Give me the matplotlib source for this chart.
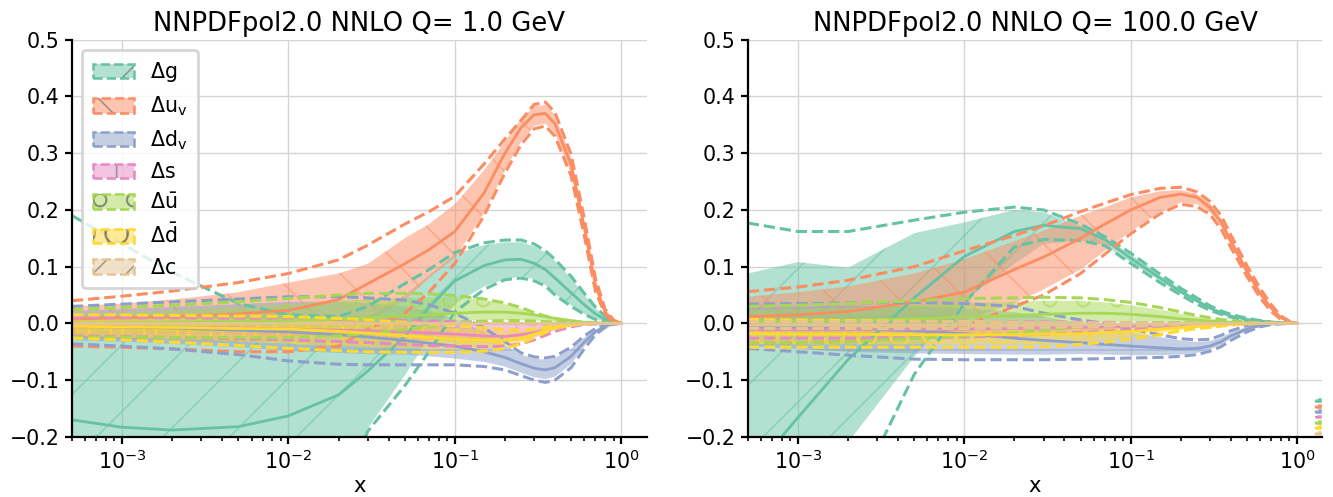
import matplotlib
matplotlib.use("Agg")
import matplotlib.pyplot as plt
from matplotlib.patches import Patch

plt.rcParams['mathtext.default'] = 'regular'
plt.rcParams['hatch.linewidth'] = 0.6

x = [5e-4, 1e-3, 2e-3, 5e-3, 0.01, 0.02, 0.03, 0.05, 0.07, 0.1, 0.15, 0.2, 0.25, 0.3, 0.35, 0.4, 0.5, 0.6, 0.7, 0.8, 0.9, 1.0]

labels = [r'$\Delta g$', r'$\Delta u_v$', r'$\Delta d_v$', r'$\Delta s$', r'$\Delta \bar{u}$', r'$\Delta \bar{d}$', r'$\Delta c$']
colors = ['#66c2a5', '#fc8d62', '#8da0cb', '#e78ac3', '#a6d854', '#ffd92f', '#e5c494']
hatches = ['/', '\\', '-', '+', 'o', 'O', '//']
titles = ['NNPDFpol2.0 NNLO Q= 1.0 GeV', 'NNPDFpol2.0 NNLO Q= 100.0 GeV']

# ---- Q = 1 GeV ----
g1_mid = [-0.170, -0.183, -0.188, -0.182, -0.163, -0.126, -0.084, -0.023, 0.028, 0.075, 0.102, 0.112, 0.113, 0.106, 0.095, 0.080, 0.054, 0.033, 0.017, 0.007, 0.002, 0.0]
g1_lo = [-0.45, -0.46, -0.46, -0.43, -0.39, -0.30, -0.185, -0.092, -0.025, 0.035, 0.065, 0.078, 0.083, 0.078, 0.068, 0.052, 0.032, 0.017, 0.008, 0.003, 0.001, 0.0]
g1_hi = [-0.02, -0.025, -0.03, -0.03, -0.03, -0.02, 0.01, 0.05, 0.085, 0.122, 0.138, 0.143, 0.143, 0.136, 0.125, 0.11, 0.08, 0.05, 0.027, 0.012, 0.004, 0.0]
g1_dlo = [-0.55, -0.55, -0.55, -0.5, -0.45, -0.32, -0.19, -0.11, -0.05, 0.02, 0.06, 0.077, 0.08, 0.075, 0.066, 0.05, 0.03, 0.016, 0.007, 0.003, 0.001, 0.0]
g1_dhi = [0.19, 0.14, 0.09, 0.035, 0.015, 0.012, 0.03, 0.07, 0.095, 0.125, 0.142, 0.147, 0.147, 0.14, 0.128, 0.113, 0.083, 0.053, 0.029, 0.013, 0.004, 0.0]

u1_mid = [0.008, 0.010, 0.012, 0.017, 0.023, 0.042, 0.070, 0.105, 0.130, 0.162, 0.230, 0.300, 0.345, 0.368, 0.370, 0.352, 0.280, 0.170, 0.068, 0.020, 0.004, 0.0]
u1_lo = [-0.025, -0.028, -0.03, -0.032, -0.03, -0.015, 0.005, 0.04, 0.08, 0.115, 0.195, 0.27, 0.32, 0.348, 0.352, 0.335, 0.265, 0.16, 0.06, 0.018, 0.003, 0.0]
u1_hi = [0.030, 0.035, 0.042, 0.055, 0.072, 0.088, 0.105, 0.15, 0.175, 0.21, 0.27, 0.32, 0.36, 0.383, 0.385, 0.368, 0.293, 0.18, 0.075, 0.023, 0.005, 0.0]
u1_dlo = [-0.04, -0.042, -0.045, -0.05, -0.05, -0.04, -0.01, 0.018, 0.055, 0.106, 0.19, 0.265, 0.315, 0.343, 0.348, 0.33, 0.26, 0.155, 0.057, 0.016, 0.003, 0.0]
u1_dhi = [0.040, 0.048, 0.057, 0.072, 0.088, 0.112, 0.138, 0.175, 0.197, 0.224, 0.281, 0.325, 0.358, 0.386, 0.39, 0.372, 0.298, 0.185, 0.08, 0.025, 0.006, 0.0]

d1_mid = [-0.005, -0.006, -0.008, -0.012, -0.015, -0.020, -0.024, -0.030, -0.035, -0.040, -0.050, -0.060, -0.071, -0.079, -0.082, -0.078, -0.058, -0.033, -0.015, -0.005, -0.001, 0.0]
d1_lo = [-0.030, -0.032, -0.036, -0.042, -0.048, -0.052, -0.054, -0.055, -0.058, -0.062, -0.068, -0.076, -0.087, -0.095, -0.098, -0.094, -0.072, -0.040, -0.018, -0.006, -0.001, 0.0]
d1_hi = [0.022, 0.025, 0.029, 0.034, 0.038, 0.038, 0.036, 0.030, 0.022, 0.008, -0.015, -0.038, -0.055, -0.062, -0.064, -0.061, -0.045, -0.025, -0.011, -0.004, -0.001, 0.0]
d1_dlo = [-0.036, -0.040, -0.045, -0.055, -0.066, -0.072, -0.073, -0.073, -0.073, -0.073, -0.076, -0.082, -0.092, -0.100, -0.104, -0.100, -0.078, -0.045, -0.020, -0.007, -0.0015, 0.0]
d1_dhi = [0.030, 0.034, 0.038, 0.043, 0.047, 0.047, 0.045, 0.041, 0.033, 0.018, -0.008, -0.032, -0.052, -0.059, -0.061, -0.058, -0.042, -0.022, -0.009, -0.003, -0.0005, 0.0]

s1_mid = [-0.006, -0.006, -0.007, -0.008, -0.010, -0.012, -0.013, -0.015, -0.017, -0.019, -0.022, -0.023, -0.020, -0.016, -0.011, -0.007, -0.003, -0.001, 0.0, 0.0, 0.0, 0.0]
s1_lo = [-0.016, -0.017, -0.018, -0.020, -0.022, -0.024, -0.025, -0.027, -0.029, -0.031, -0.033, -0.033, -0.030, -0.025, -0.018, -0.012, -0.005, -0.002, -0.001, 0.0, 0.0, 0.0]
s1_hi = [0.004, 0.004, 0.003, 0.003, 0.002, 0.001, 0.0, 0.0, 0.0, 0.0, 0.0, -0.001, -0.002, -0.003, -0.002, -0.001, -0.001, 0.0, 0.0, 0.0, 0.0, 0.0]
s1_dlo = [-0.022, -0.023, -0.025, -0.027, -0.029, -0.032, -0.034, -0.037, -0.039, -0.040, -0.041, -0.040, -0.036, -0.029, -0.021, -0.014, -0.006, -0.002, -0.001, 0.0, 0.0, 0.0]
s1_dhi = [0.010, 0.010, 0.010, 0.009, 0.008, 0.007, 0.006, 0.005, 0.004, 0.003, 0.002, 0.001, 0.0, -0.001, -0.001, -0.001, 0.0, 0.0, 0.0, 0.0, 0.0, 0.0]

ub1_mid = [0.000, 0.001, 0.002, 0.004, 0.005, 0.008, 0.010, 0.013, 0.015, 0.018, 0.020, 0.020, 0.018, 0.015, 0.012, 0.009, 0.005, 0.002, 0.001, 0.0, 0.0, 0.0]
ub1_lo = [-0.015, -0.015, -0.015, -0.015, -0.015, -0.012, -0.009, -0.004, 0.0, 0.004, 0.006, 0.006, 0.006, 0.005, 0.004, 0.003, 0.001, 0.0, 0.0, 0.0, 0.0, 0.0]
ub1_hi = [0.016, 0.019, 0.023, 0.029, 0.034, 0.040, 0.043, 0.045, 0.046, 0.046, 0.041, 0.034, 0.026, 0.018, 0.012, 0.007, 0.003, 0.001, 0.0, 0.0, 0.0, 0.0]
ub1_dlo = [-0.024, -0.024, -0.025, -0.025, -0.025, -0.022, -0.018, -0.011, -0.005, 0.001, 0.004, 0.005, 0.005, 0.004, 0.003, 0.002, 0.001, 0.0, 0.0, 0.0, 0.0, 0.0]
ub1_dhi = [0.024, 0.028, 0.032, 0.038, 0.044, 0.050, 0.053, 0.053, 0.052, 0.049, 0.043, 0.036, 0.028, 0.019, 0.013, 0.008, 0.004, 0.002, 0.001, 0.0, 0.0, 0.0]

db1_mid = [-0.005, -0.006, -0.007, -0.009, -0.010, -0.014, -0.017, -0.022, -0.025, -0.028, -0.030, -0.030, -0.026, -0.019, -0.012, -0.007, -0.003, -0.001, 0.0, 0.0, 0.0, 0.0]
db1_lo = [-0.022, -0.024, -0.027, -0.032, -0.036, -0.040, -0.042, -0.044, -0.045, -0.046, -0.045, -0.040, -0.033, -0.022, -0.014, -0.008, -0.003, -0.001, 0.0, 0.0, 0.0, 0.0]
db1_hi = [0.010, 0.010, 0.009, 0.008, 0.007, 0.004, 0.002, -0.002, -0.005, -0.008, -0.012, -0.015, -0.015, -0.012, -0.008, -0.005, -0.002, -0.001, 0.0, 0.0, 0.0, 0.0]
db1_dlo = [-0.026, -0.029, -0.033, -0.039, -0.044, -0.048, -0.050, -0.051, -0.051, -0.051, -0.049, -0.044, -0.036, -0.025, -0.016, -0.009, -0.003, -0.001, 0.0, 0.0, 0.0, 0.0]
db1_dhi = [0.015, 0.015, 0.014, 0.013, 0.012, 0.009, 0.006, 0.002, -0.001, -0.004, -0.008, -0.011, -0.012, -0.010, -0.007, -0.004, -0.001, 0.0, 0.0, 0.0, 0.0, 0.0]

c1_mid = [0.0, 0.0, 0.0, 0.0, 0.0, 0.0, 0.0, 0.0, 0.0, 0.0, 0.0, 0.0, 0.0, 0.0, 0.0, 0.0, 0.0, 0.0, 0.0, 0.0, 0.0, 0.0]
c1_lo = [0.0, 0.0, 0.0, 0.0, 0.0, 0.0, 0.0, 0.0, 0.0, 0.0, 0.0, 0.0, 0.0, 0.0, 0.0, 0.0, 0.0, 0.0, 0.0, 0.0, 0.0, 0.0]
c1_hi = [0.0, 0.0, 0.0, 0.0, 0.0, 0.0, 0.0, 0.0, 0.0, 0.0, 0.0, 0.0, 0.0, 0.0, 0.0, 0.0, 0.0, 0.0, 0.0, 0.0, 0.0, 0.0]
c1_dlo = [0.0, 0.0, 0.0, 0.0, 0.0, 0.0, 0.0, 0.0, 0.0, 0.0, 0.0, 0.0, 0.0, 0.0, 0.0, 0.0, 0.0, 0.0, 0.0, 0.0, 0.0, 0.0]
c1_dhi = [0.0, 0.0, 0.0, 0.0, 0.0, 0.0, 0.0, 0.0, 0.0, 0.0, 0.0, 0.0, 0.0, 0.0, 0.0, 0.0, 0.0, 0.0, 0.0, 0.0, 0.0, 0.0]

# ---- Q = 100 GeV ----
g2_mid = [-0.27, -0.166, -0.064, 0.045, 0.118, 0.162, 0.173, 0.167, 0.148, 0.115, 0.080, 0.056, 0.040, 0.027, 0.019, 0.013, 0.007, 0.004, 0.002, 0.001, 0.0003, 0.0]
g2_lo = [-0.6, -0.45, -0.21, -0.059, 0.04, 0.105, 0.14, 0.146, 0.138, 0.108, 0.075, 0.052, 0.037, 0.025, 0.017, 0.012, 0.006, 0.003, 0.0015, 0.0007, 0.0002, 0.0]
g2_hi = [0.088, 0.108, 0.098, 0.159, 0.178, 0.200, 0.196, 0.172, 0.150, 0.122, 0.085, 0.060, 0.043, 0.030, 0.021, 0.015, 0.008, 0.004, 0.002, 0.001, 0.0003, 0.0]
g2_dlo = [-0.7, -0.5, -0.33, -0.09, 0.035, 0.135, 0.148, 0.146, 0.137, 0.106, 0.072, 0.05, 0.034, 0.023, 0.016, 0.011, 0.005, 0.003, 0.0014, 0.0006, 0.0002, 0.0]
g2_dhi = [0.177, 0.162, 0.162, 0.182, 0.196, 0.205, 0.200, 0.175, 0.153, 0.124, 0.087, 0.062, 0.045, 0.031, 0.022, 0.016, 0.009, 0.005, 0.0025, 0.001, 0.0003, 0.0]

u2_mid = [0.012, 0.015, 0.021, 0.038, 0.055, 0.095, 0.117, 0.150, 0.175, 0.200, 0.222, 0.228, 0.222, 0.205, 0.178, 0.145, 0.092, 0.053, 0.027, 0.010, 0.003, 0.0]
u2_lo = [-0.02, -0.02, -0.018, -0.01, 0.005, 0.035, 0.06, 0.095, 0.128, 0.162, 0.196, 0.213, 0.21, 0.196, 0.170, 0.138, 0.086, 0.049, 0.024, 0.008, 0.002, 0.0]
u2_hi = [0.047, 0.055, 0.065, 0.088, 0.113, 0.145, 0.163, 0.19, 0.205, 0.222, 0.233, 0.235, 0.228, 0.212, 0.185, 0.152, 0.098, 0.058, 0.03, 0.012, 0.0035, 0.0]
u2_dlo = [-0.035, -0.034, -0.032, -0.025, -0.005, 0.03, 0.05, 0.088, 0.122, 0.158, 0.193, 0.21, 0.206, 0.192, 0.166, 0.134, 0.083, 0.045, 0.021, 0.007, 0.002, 0.0]
u2_dhi = [0.056, 0.064, 0.076, 0.1, 0.128, 0.155, 0.172, 0.197, 0.212, 0.227, 0.238, 0.24, 0.232, 0.215, 0.19, 0.156, 0.102, 0.062, 0.033, 0.013, 0.004, 0.0]

d2_mid = [-0.005, -0.007, -0.009, -0.013, -0.018, -0.026, -0.030, -0.034, -0.037, -0.040, -0.043, -0.045, -0.044, -0.040, -0.032, -0.022, -0.010, -0.004, -0.001, 0.0, 0.0, 0.0]
d2_lo = [-0.040, -0.045, -0.050, -0.053, -0.054, -0.055, -0.055, -0.054, -0.055, -0.056, -0.056, -0.055, -0.052, -0.046, -0.038, -0.027, -0.013, -0.005, -0.002, -0.001, 0.0, 0.0]
d2_hi = [0.028, 0.030, 0.031, 0.030, 0.027, 0.020, 0.012, 0.0, -0.005, -0.015, -0.024, -0.030, -0.033, -0.031, -0.025, -0.016, -0.006, -0.002, -0.001, 0.0, 0.0, 0.0]
d2_dlo = [-0.044, -0.050, -0.056, -0.063, -0.064, -0.064, -0.064, -0.063, -0.062, -0.061, -0.060, -0.058, -0.055, -0.049, -0.041, -0.030, -0.015, -0.006, -0.002, -0.001, 0.0, 0.0]
d2_dhi = [0.034, 0.035, 0.036, 0.037, 0.035, 0.030, 0.018, 0.006, 0.0, -0.010, -0.020, -0.027, -0.029, -0.028, -0.021, -0.013, -0.004, -0.001, 0.0, 0.0, 0.0, 0.0]

s2_mid = [-0.011, -0.011, -0.011, -0.010, -0.010, -0.009, -0.008, -0.007, -0.006, -0.005, -0.004, -0.003, -0.002, -0.0015, -0.001, -0.0007, -0.0003, 0.0, 0.0, 0.0, 0.0, 0.0]
s2_lo = [-0.021, -0.021, -0.021, -0.020, -0.019, -0.017, -0.015, -0.013, -0.011, -0.009, -0.007, -0.005, -0.004, -0.003, -0.002, -0.0013, -0.0006, 0.0, 0.0, 0.0, 0.0, 0.0]
s2_hi = [-0.001, -0.001, -0.001, -0.001, -0.001, -0.001, -0.001, -0.001, -0.001, -0.001, -0.001, -0.001, 0.0, 0.0, 0.0, 0.0, 0.0, 0.0, 0.0, 0.0, 0.0, 0.0]
s2_dlo = [-0.026, -0.026, -0.026, -0.025, -0.024, -0.021, -0.019, -0.016, -0.014, -0.011, -0.009, -0.006, -0.005, -0.004, -0.003, -0.002, -0.001, 0.0, 0.0, 0.0, 0.0, 0.0]
s2_dhi = [0.004, 0.004, 0.004, 0.004, 0.004, 0.003, 0.003, 0.002, 0.002, 0.001, 0.001, 0.001, 0.0, 0.0, 0.0, 0.0, 0.0, 0.0, 0.0, 0.0, 0.0, 0.0]

ub2_mid = [0.003, 0.004, 0.005, 0.008, 0.011, 0.014, 0.016, 0.018, 0.018, 0.016, 0.012, 0.008, 0.006, 0.004, 0.003, 0.002, 0.001, 0.0, 0.0, 0.0, 0.0, 0.0]
ub2_lo = [-0.018, -0.017, -0.016, -0.014, -0.012, -0.008, -0.004, 0.0, 0.002, 0.003, 0.003, 0.002, 0.002, 0.001, 0.001, 0.0, 0.0, 0.0, 0.0, 0.0, 0.0, 0.0]
ub2_hi = [0.024, 0.026, 0.028, 0.032, 0.036, 0.038, 0.040, 0.040, 0.037, 0.032, 0.024, 0.017, 0.012, 0.008, 0.006, 0.004, 0.002, 0.001, 0.0, 0.0, 0.0, 0.0]
ub2_dlo = [-0.035, -0.034, -0.032, -0.026, -0.022, -0.017, -0.012, -0.006, -0.002, 0.0, 0.001, 0.001, 0.001, 0.0, 0.0, 0.0, 0.0, 0.0, 0.0, 0.0, 0.0, 0.0]
ub2_dhi = [0.030, 0.032, 0.035, 0.040, 0.044, 0.045, 0.046, 0.045, 0.042, 0.037, 0.028, 0.020, 0.014, 0.010, 0.007, 0.005, 0.002, 0.001, 0.0, 0.0, 0.0, 0.0]

db2_mid = [-0.018, -0.019, -0.019, -0.020, -0.020, -0.020, -0.019, -0.018, -0.016, -0.014, -0.010, -0.007, -0.005, -0.004, -0.003, -0.002, -0.001, 0.0, 0.0, 0.0, 0.0, 0.0]
db2_lo = [-0.036, -0.037, -0.037, -0.037, -0.037, -0.037, -0.036, -0.033, -0.029, -0.024, -0.017, -0.012, -0.008, -0.006, -0.004, -0.003, -0.001, 0.0, 0.0, 0.0, 0.0, 0.0]
db2_hi = [0.0, 0.0, -0.001, -0.002, -0.003, -0.004, -0.004, -0.004, -0.004, -0.004, -0.003, -0.002, -0.002, -0.001, -0.001, -0.001, 0.0, 0.0, 0.0, 0.0, 0.0, 0.0]
db2_dlo = [-0.042, -0.042, -0.042, -0.042, -0.042, -0.042, -0.041, -0.037, -0.033, -0.028, -0.020, -0.013, -0.009, -0.007, -0.005, -0.003, -0.001, 0.0, 0.0, 0.0, 0.0, 0.0]
db2_dhi = [0.007, 0.006, 0.005, 0.004, 0.003, 0.002, 0.001, 0.0, -0.001, -0.002, -0.002, -0.002, -0.001, -0.001, -0.001, 0.0, 0.0, 0.0, 0.0, 0.0, 0.0, 0.0]

c2_mid = [-0.003, -0.003, -0.003, -0.003, -0.003, -0.003, -0.002, -0.002, -0.002, -0.001, -0.001, -0.0005, 0.0, 0.0, 0.0, 0.0, 0.0, 0.0, 0.0, 0.0, 0.0, 0.0]
c2_lo = [-0.007, -0.007, -0.007, -0.007, -0.007, -0.006, -0.005, -0.004, -0.004, -0.003, -0.002, -0.001, 0.0, 0.0, 0.0, 0.0, 0.0, 0.0, 0.0, 0.0, 0.0, 0.0]
c2_hi = [0.001, 0.001, 0.001, 0.001, 0.001, 0.0, 0.0, 0.0, 0.0, 0.0, 0.0, 0.0, 0.0, 0.0, 0.0, 0.0, 0.0, 0.0, 0.0, 0.0, 0.0, 0.0]
c2_dlo = [-0.009, -0.009, -0.009, -0.009, -0.009, -0.008, -0.007, -0.006, -0.005, -0.004, -0.003, -0.002, -0.001, 0.0, 0.0, 0.0, 0.0, 0.0, 0.0, 0.0, 0.0, 0.0]
c2_dhi = [0.003, 0.003, 0.003, 0.003, 0.003, 0.002, 0.002, 0.001, 0.001, 0.001, 0.0, 0.0, 0.0, 0.0, 0.0, 0.0, 0.0, 0.0, 0.0, 0.0, 0.0, 0.0]

panel1 = [(g1_mid, g1_lo, g1_hi, g1_dlo, g1_dhi), (u1_mid, u1_lo, u1_hi, u1_dlo, u1_dhi),
          (d1_mid, d1_lo, d1_hi, d1_dlo, d1_dhi), (s1_mid, s1_lo, s1_hi, s1_dlo, s1_dhi),
          (ub1_mid, ub1_lo, ub1_hi, ub1_dlo, ub1_dhi), (db1_mid, db1_lo, db1_hi, db1_dlo, db1_dhi),
          (c1_mid, c1_lo, c1_hi, c1_dlo, c1_dhi)]
panel2 = [(g2_mid, g2_lo, g2_hi, g2_dlo, g2_dhi), (u2_mid, u2_lo, u2_hi, u2_dlo, u2_dhi),
          (d2_mid, d2_lo, d2_hi, d2_dlo, d2_dhi), (s2_mid, s2_lo, s2_hi, s2_dlo, s2_dhi),
          (ub2_mid, ub2_lo, ub2_hi, ub2_dlo, ub2_dhi), (db2_mid, db2_lo, db2_hi, db2_dlo, db2_dhi),
          (c2_mid, c2_lo, c2_hi, c2_dlo, c2_dhi)]

fig = plt.figure(figsize=(6.665, 2.485), dpi=200)
ax1 = fig.add_axes([0.054, 0.121, 0.431, 0.799])
ax2 = fig.add_axes([0.561, 0.121, 0.431, 0.799])

handles = []
for c, h in zip(colors, hatches):
    handles.append((Patch(facecolor=c, edgecolor='#555555', alpha=0.5, hatch=h, lw=0),
                    Patch(facecolor='none', edgecolor=c, ls='--', lw=0.9)))

for ax, panel, title in zip([ax1, ax2], [panel1, panel2], titles):
    for (mid, lo, hi, dlo, dhi), c, h in zip(panel, colors, hatches):
        ax.fill_between(x, lo, hi, facecolor=c, edgecolor=c, alpha=0.5, hatch=h, lw=0)
        ax.plot(x, mid, color=c, lw=1.0)
        ax.plot(x, dlo, color=c, lw=1.1, ls='--')
        ax.plot(x, dhi, color=c, lw=1.1, ls='--')
    ax.set_xscale('log')
    ax.set_xlim(5e-4, 1.42)
    ax.set_ylim(-0.2, 0.5)
    ax.set_title(title, fontsize=9.3, pad=3)
    ax.set_xlabel('x', fontsize=7.6, labelpad=1)
    ax.grid(True, color='#d4d4d4', lw=0.5)
    ax.set_axisbelow(True)
    ax.spines['top'].set_visible(False)
    ax.spines['right'].set_visible(False)
    ax.spines['left'].set_linewidth(0.8)
    ax.spines['bottom'].set_linewidth(0.8)
    ax.tick_params(labelsize=7.4, width=0.8, length=2.5, pad=2)
    ax.tick_params(which='minor', width=0.6, length=1.6)

ax1.legend(handles, labels, loc='upper left', fontsize=7.4, framealpha=0.8,
           handlelength=2.0, borderpad=0.5, labelspacing=0.5)
ax2.legend(handles, ['' for l in labels], loc='lower right', fontsize=1, frameon=False,
           handlelength=2.0, borderpad=0.3, labelspacing=0.5, handletextpad=0)

fig.savefig('out.png', dpi=200)
